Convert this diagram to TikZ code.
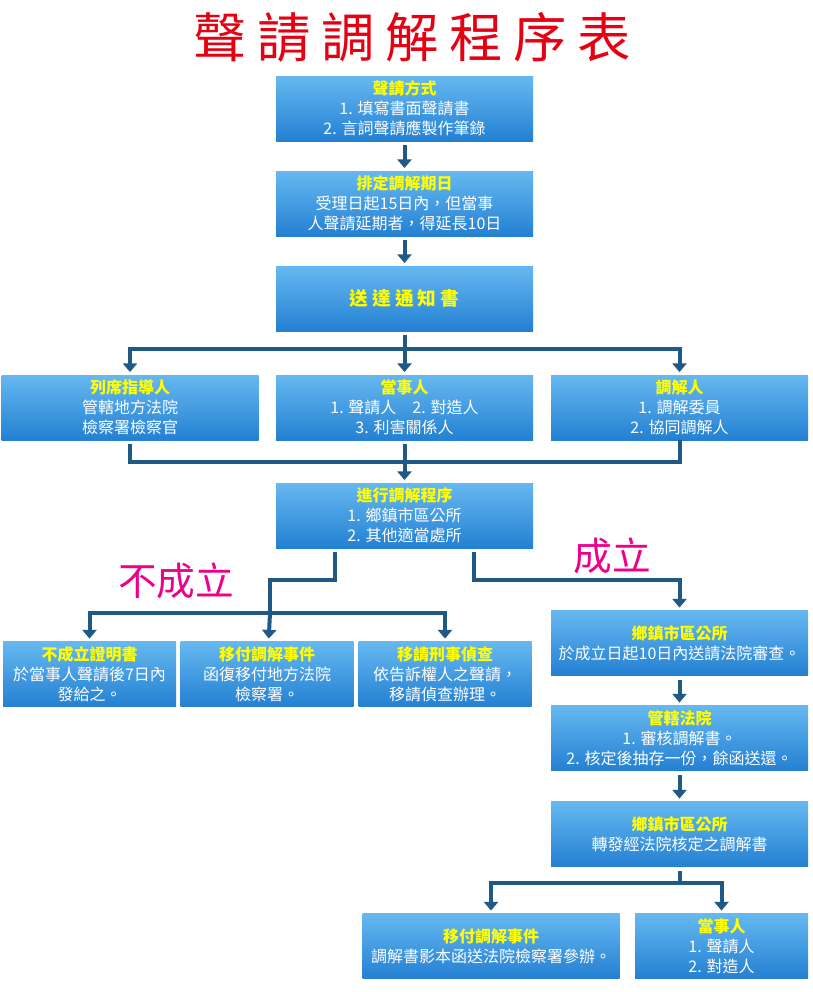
\documentclass[tikz,border=0pt]{standalone}
\usepackage{fontspec}
\setmainfont{Noto Sans CJK TC}
\usetikzlibrary{arrows.meta,positioning,calc}

\definecolor{boxTop}{HTML}{66B8F0}
\definecolor{boxBottom}{HTML}{2380D2}
\definecolor{arrowBlue}{HTML}{1F5A86}
\definecolor{headYellow}{HTML}{FFFF00}
\definecolor{titleRed}{HTML}{E60012}

\newcommand{\hd}[1]{{\bfseries\color{headYellow}#1}}
\newcommand{\tgap}{\hspace{8pt}}

\begin{document}
\begin{tikzpicture}[
			x=0.75pt, y=-0.75pt,
			every node/.style={align=center, font=\fontsize{12}{15}\selectfont},
			blueBox/.style={rectangle, top color=boxTop, bottom color=boxBottom, text=white, inner sep=0pt, minimum height=48.75pt},
			wideBox/.style={blueBox, minimum width=192.75pt},   % wide boxes
			narrowBox/.style={blueBox, minimum width=129.75pt}, % narrow boxes
			titleText/.style={text=titleRed, font=\fontsize{40}{40}\selectfont},
			branchLabel/.style={text=magenta, font=\fontsize{29}{29}\selectfont},
			flowline/.style={draw=arrowBlue, line width=3pt},
			flowarrow/.style={flowline, -{Triangle[width=10.5pt,length=6.5pt]}, shorten >=2pt},
			gapped/.style={shorten <=3pt}
		]

		\path[use as bounding box, fill=white] (0,0) rectangle (813,992);

		\node[titleText] (title) at (412,37) {聲\tgap{}請\tgap{}調\tgap{}解\tgap{}程\tgap{}序\tgap{}表};

		% Top chain
		\node[wideBox] (apply) at (404.5,108.5) {\hd{聲請方式}\\1. 填寫書面聲請書\\2. 言詞聲請應製作筆錄};
		\node[wideBox] (schedule) at (404.5,203.5) {\hd{排定調解期日}\\受理日起15日內，但當事\\人聲請延期者，得延長10日};
		\node[wideBox] (notice) at (404.5,298.5) {\fontsize{14}{16}\selectfont\hd{送\hspace{3pt}達\hspace{3pt}通\hspace{3pt}知\hspace{3pt}書}};

		\draw[flowarrow, gapped] (apply) -- (schedule);
		\draw[flowarrow, gapped] (schedule) -- (notice);

		% Who takes part
		\node[wideBox] (guide) at (130,407.5) {\hd{列席指導人}\\管轄地方法院\\檢察署檢察官};
		\node[wideBox] (party) at (404.5,407.5) {\hd{當事人}\\1. 聲請人\quad 2. 對造人\\3. 利害關係人};
		\node[wideBox] (mediator) at (679.5,407.5) {\hd{調解人}\\1. 調解委員\\2. 協同調解人};

		\coordinate (spread) at (404.5,349);
		\draw[flowline, gapped] (notice) -- (spread);
		\draw[flowarrow] (spread) -| (guide);
		\draw[flowarrow] (spread) -| (mediator);
		\draw[flowarrow] (spread) -- (party);

		\node[wideBox] (process) at (404.5,515.5) {\hd{進行調解程序}\\1. 鄉鎮市區公所\\2. 其他適當處所};

		\coordinate (merge) at (404.5,462);
		\draw[flowline, gapped] (guide) |- (merge) -| (mediator);
		\draw[flowarrow, gapped] (party) -- (process);

		% Not reached
		\node[branchLabel] (failLabel) at (176,581) {不成立};
		\node[narrowBox, minimum width=129.75pt] (certify) at (89.5,674) {\hd{不成立證明書}\\於當事人聲請後7日內\\發給之。};
		\node[narrowBox] (transfer) at (267,674) {\hd{移付調解事件}\\函復移付地方法院\\檢察署。};
		\node[narrowBox] (criminal) at (445,674) {\hd{移請刑事偵查}\\依告訴權人之聲請，\\移請偵查辦理。};

		\coordinate (failA) at (335,580);
		\coordinate (failB) at (270,613);
		\draw[flowline] ([yshift=-3pt]process.south -| failA) -- (failA) -| (failB);
		\draw[flowarrow] (failB) -| (certify);
		\draw[flowarrow] (failB) -| (criminal);
		\draw[flowarrow] (failB) -- (transfer);

		% Reached
		\node[branchLabel] (passLabel) at (612,556) {成立};
		\node[wideBox] (office) at (679.5,643) {\hd{鄉鎮市區公所}\\於成立日起10日內送請法院審查。};
		\node[wideBox] (court) at (679.5,738) {\hd{管轄法院}\\1. 審核調解書。\\2. 核定後抽存一份，餘函送還。};
		\node[wideBox] (officeB) at (679.5,834) {\hd{鄉鎮市區公所}\\轉發經法院核定之調解書};

		\coordinate (passA) at (474,580);
		\draw[flowarrow] ([yshift=-3pt]process.south -| passA) -- (passA) -| (office);
		\draw[flowarrow, gapped] (office) -- (court);
		\draw[flowarrow, gapped] (court) -- (officeB);

		\node[wideBox] (refer) at (491,946) {\hd{移付調解事件}\\調解書影本函送法院檢察署參辦。};
		\node[narrowBox] (parties) at (721.5,946) {\hd{當事人}\\1. 聲請人\\2. 對造人};

		\coordinate (handout) at (679.5,883);
		\draw[flowline, gapped] (officeB) -- (handout);
		\draw[flowarrow] (handout) -| (refer);
		\draw[flowarrow] (handout) -| (parties);
	\end{tikzpicture}
\end{document}
